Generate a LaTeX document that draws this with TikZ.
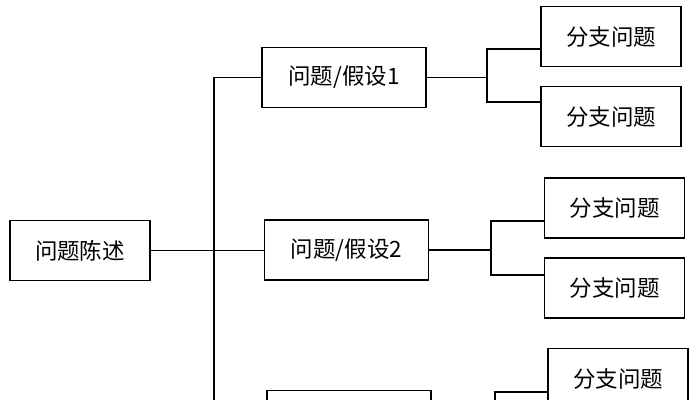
\documentclass[tikz,border=0pt]{standalone}
\usepackage{fontspec}
\newfontfamily\cjk{Noto Sans CJK SC}
\begin{document}
\begin{tikzpicture}[x=0.025cm,y=0.025cm,line width=1pt,
  box/.style={draw,minimum height=1.5cm,inner sep=0pt,font=\cjk\fontsize{16}{19}\selectfont},
  rootbox/.style={box,minimum width=3.5cm},
  hypbox/.style={box,minimum width=4.1cm},
  leafbox/.style={box,minimum width=3.5cm}]
\useasboundingbox (0,0) rectangle (699,400);
\clip (0,0) rectangle (699,400);
\fill[white] (0,0) rectangle (699,400);

\node[rootbox] (root) at (80,149.5) {问题陈述};

\node[hypbox] (h1) at (344,322.5) {问题/假设1};
\node[hypbox] (h2) at (346.5,150) {问题/假设2};
\node[hypbox] (h3) at (349,-20.5) {};

\node[leafbox] (l1) at (611,363.5) {分支问题};
\node[leafbox] (l2) at (611,283.5) {分支问题};
\node[leafbox] (l3) at (614.5,192) {分支问题};
\node[leafbox] (l4) at (614.5,112) {分支问题};
\node[leafbox] (l5) at (618,21.5) {分支问题};

\coordinate (trunk) at (214,0);
\coordinate (f1a) at (487,351);
\coordinate (f1b) at (487,298);
\coordinate (f2a) at (491,179);
\coordinate (f2b) at (491,125);
\coordinate (f3a) at (495,8);
\coordinate (f3b) at (495,-40);

\draw (h1.west) -| (trunk |- h3.west) -- (h3.west);
\draw (root.east) -- (root.east -| h2.west);

\draw (h1.east) -- (f1a |- h1.east);
\draw (l1.west |- f1a) -- (f1a) -- (f1b) -- (l2.west |- f1b);
\draw (h2.east) -- (f2a |- h2.east);
\draw (l3.west |- f2a) -- (f2a) -- (f2b) -- (l4.west |- f2b);
\draw (l5.west |- f3a) -- (f3a) -- (f3b);
\end{tikzpicture}
\end{document}
